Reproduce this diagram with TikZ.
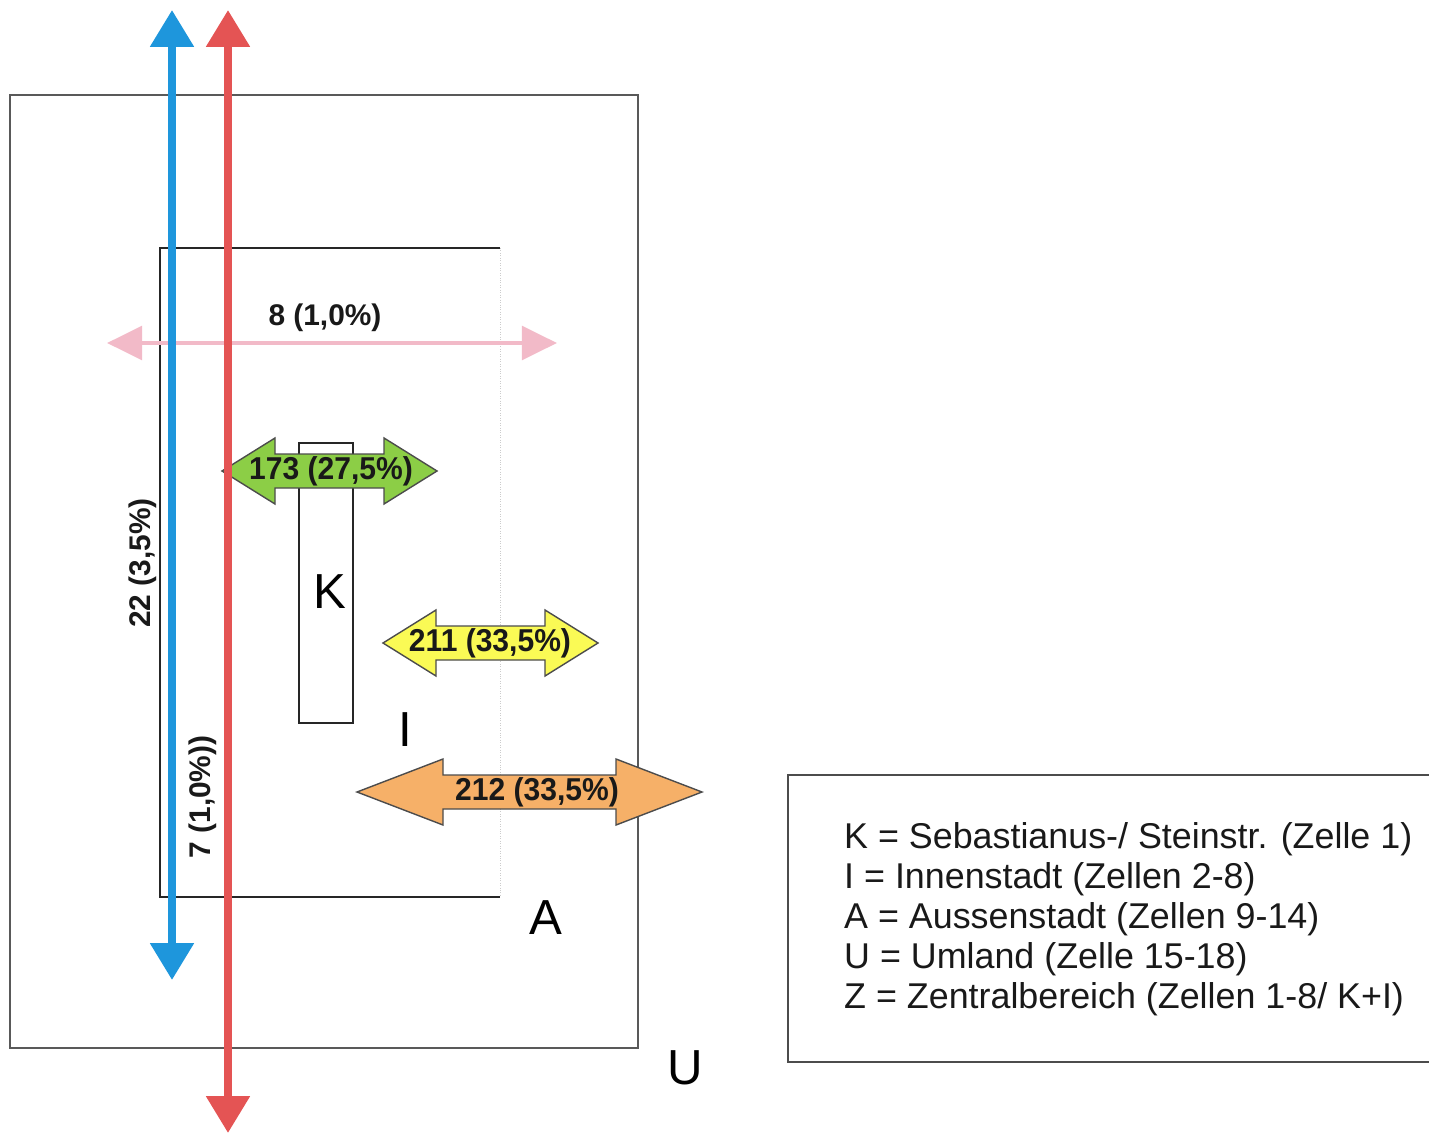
\documentclass[tikz,border=0pt]{standalone}
\usepackage{fontspec}
\setmainfont{Liberation Sans}
\newfontfamily\narrowsans[FakeStretch=0.95]{Liberation Sans}
\usetikzlibrary{arrows.meta}

\definecolor{flowblue}{RGB}{30,150,220}
\definecolor{flowred}{RGB}{228,84,84}
\definecolor{flowpink}{RGB}{242,186,200}
\definecolor{flowgreen}{RGB}{140,206,70}
\definecolor{flowyellow}{RGB}{250,250,85}
\definecolor{floworange}{RGB}{246,176,104}

\tikzset{
  zone/.style={draw=black!85,line width=1pt},
  zonename/.style={font=\fontsize{28}{30}\selectfont},
  bigflow/.style={line width=4.5pt,{Triangle[width=24pt,length=21pt]}-{Triangle[width=24pt,length=21pt]}},
  smallflow/.style={line width=2.8pt,{Triangle[width=19pt,length=20pt]}-{Triangle[width=19pt,length=20pt]}},
  flowlabel/.style={font=\fontsize{17}{19}\selectfont\bfseries,text=black!90},
  blocklabel/.style={font=\narrowsans\fontsize{18}{20}\selectfont\bfseries,text=black!90},
  blockarrow/.style={draw=black!70,line width=0.8pt,line join=miter}
}

% #1 name, #2 left tip, #3 right tip, #4 centre y, #5 head, #6 colour, #7 label x, #8 text
\newcommand\flowblock[8]{%
  \draw[blockarrow,fill=#6] (#2,#4) -- ({#2+#5},{#4-33}) -- ({#2+#5},{#4-17})
    -- ({#3-#5},{#4-17}) -- ({#3-#5},{#4-33}) -- (#3,#4) -- ({#3-#5},{#4+33})
    -- ({#3-#5},{#4+17}) -- ({#2+#5},{#4+17}) -- ({#2+#5},{#4+33}) -- cycle;
  \node[blocklabel] (#1) at (#7,#4) {#8};}

\begin{document}
\begin{tikzpicture}[x=0.02cm,y=-0.02cm]
  \useasboundingbox (0,0) rectangle (1429,1135);
  % zones U, A, K
  \draw[zone,draw=black!65] (10,95) rectangle (638,1048);
  \draw[zone] (500,248) -- (160,248) -- (160,897) -- (500,897);
  \draw[black!20,densely dotted] (500,248) -- (500,897);
  \draw[zone] (299,443) rectangle (353,723);
  \node[zonename] (K) at (330,592) {K};
  \node[zonename] (I) at (405,730) {I};
  \node[zonename] (A) at (546,918) {A};
  \node[zonename] (U) at (685,1068) {U};

  % line flows
  \coordinate (pinkW) at (107,343);
  \coordinate (pinkE) at (557,343);
  \coordinate (blueN) at (172,10);
  \coordinate (blueS) at (172,980);
  \coordinate (redN) at (228,10);
  \coordinate (redS) at (228,1133);
  \draw[smallflow,flowpink] (pinkW) -- (pinkE);
  \node[flowlabel] (pinklabel) at (325,318) {8 (1,0\%)};
  \draw[bigflow,flowblue] (blueN) -- (blueS);
  \node[flowlabel,rotate=90] (bluelabel) at (143,563) {22 (3,5\%)};
  \node[flowlabel,rotate=90] (redlabel) at (203,797) {7 (1,0\%))};

  % block flows
  \flowblock{green}{222}{437}{471}{53}{flowgreen}{331}{173 (27,5\%)}
  \flowblock{yellow}{383}{598}{643}{53}{flowyellow}{490}{211 (33,5\%)}
  \flowblock{orange}{357}{702}{792}{86}{floworange}{537}{212 (33,5\%)}

  \draw[bigflow,flowred] (redN) -- (redS);

  % legend
  \draw[line width=0.9pt,black!70] (1429,775) -- (788,775) -- (788,1062) -- (1429,1062);
  \node[anchor=west,align=left,font=\fontsize{20.4}{22.7}\selectfont,text=black!90] (legend) at (838,919)
    {K = Sebastianus-/ Steinstr. (Zelle 1)\\
     I = Innenstadt (Zellen 2-8)\\
     A = Aussenstadt (Zellen 9-14)\\
     U = Umland (Zelle 15-18)\\
     Z = Zentralbereich (Zellen 1-8/ K+I)};
\end{tikzpicture}
\end{document}
